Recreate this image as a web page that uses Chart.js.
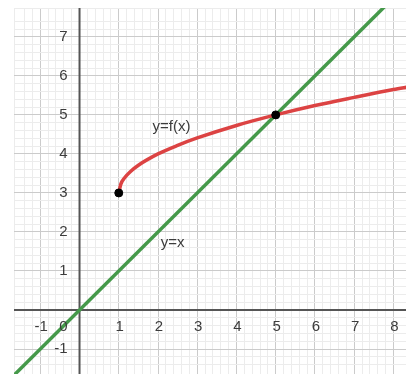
<!DOCTYPE html>
<html>
<head>
<meta charset="utf-8">
<script src="https://cdn.jsdelivr.net/npm/chart.js@4"></script>
<style>
  body { margin: 0; background: #fff; }
  canvas { display: block; }
</style>
</head>
<body>
<canvas id="graph" width="406" height="374"></canvas>
<script>
// values
const curveX = [1, 1.05, 1.15, 1.3, 1.5, 2, 2.5, 3, 4, 5, 6, 7, 8, 8.4];
const curveY = [3, 3.22, 3.39, 3.55, 3.71, 4.0, 4.22, 4.41, 4.73, 5.0, 5.24, 5.45, 5.65, 5.72];
const lineX = [-2, 9];
const lineY = [-2, 9];
const dotX = [1, 5];
const dotY = [3, 5];
const xTicks = [-1, 1, 2, 3, 4, 5, 6, 7, 8];
const yTicks = [-1, 1, 2, 3, 4, 5, 6, 7];
const curveLabel = { text: "y=f(x)", x: 1.86, y: 4.69 };
const lineLabel = { text: "y=x", x: 2.07, y: 1.72 };

function toPoints(xs, ys) {
  return xs.map((x, i) => ({ x: x, y: ys[i] }));
}

function isWhole(v) {
  return Math.abs(v - Math.round(v)) < 1e-6;
}

function gridColor(ctx) {
  return isWhole(ctx.tick.value) ? "#cbcbcb" : "#ececec";
}

// the two axes go over the whole grid
const axesPlugin = {
  id: "axes",
  beforeDatasetsDraw(chart) {
    const c = chart.ctx;
    const area = chart.chartArea;
    const x0 = chart.scales.x.getPixelForValue(0);
    const y0 = chart.scales.y.getPixelForValue(0);
    c.save();
    c.strokeStyle = "#555";
    c.lineWidth = 2;
    c.beginPath();
    c.moveTo(x0, area.top);
    c.lineTo(x0, area.bottom);
    c.moveTo(area.left, y0);
    c.lineTo(area.right, y0);
    c.stroke();
    c.restore();
  },
};

// axis numbers and the two captions, placed through the scales
const labelsPlugin = {
  id: "labels",
  afterDatasetsDraw(chart) {
    const c = chart.ctx;
    const xs = chart.scales.x;
    const ys = chart.scales.y;
    const x0 = xs.getPixelForValue(0);
    const y0 = ys.getPixelForValue(0);
    c.save();
    c.font = "15px 'Liberation Sans', Arial, sans-serif";
    c.fillStyle = "#3c3c3c";
    c.textBaseline = "middle";

    c.textAlign = "center";
    xTicks.forEach((t) => {
      c.fillText(String(t).replace("-", "\u2011"), xs.getPixelForValue(t) + 1, y0 + 17);
    });
    c.textAlign = "right";
    yTicks.forEach((t) => {
      c.fillText(String(t), x0 - 12, ys.getPixelForValue(t));
    });
    c.fillText("0", x0 - 12, y0 + 17);

    c.textAlign = "left";
    [curveLabel, lineLabel].forEach((l) => {
      c.fillText(l.text, xs.getPixelForValue(l.x), ys.getPixelForValue(l.y));
    });
    c.restore();
  },
};

new Chart("graph", {
  type: "scatter",
  data: {
    datasets: [
      {
        data: toPoints(dotX, dotY),
        backgroundColor: "#000",
        borderColor: "#000",
        pointRadius: 4,
        showLine: false,
        order: 0,
      },
      {
        data: toPoints(curveX, curveY),
        borderColor: "#dc4343",
        borderWidth: 3.5,
        pointRadius: 0,
        showLine: true,
        cubicInterpolationMode: "monotone",
        clip: 0,
        order: 1,
      },
      {
        data: toPoints(lineX, lineY),
        borderColor: "#45994a",
        borderWidth: 3.5,
        pointRadius: 0,
        showLine: true,
        clip: 0,
        order: 2,
      },
    ],
  },
  options: {
    responsive: false,
    animation: false,
    layout: { autoPadding: false, padding: { left: 14, top: 8, right: 0, bottom: 0 } },
    plugins: {
      legend: { display: false },
      tooltip: { enabled: false },
    },
    scales: {
      x: {
        type: "linear",
        min: -1.67,
        max: 8.32,
        ticks: { display: false, stepSize: 0.2 },
        border: { display: false },
        grid: { color: gridColor, drawTicks: false },
      },
      y: {
        type: "linear",
        min: -1.64,
        max: 7.74,
        ticks: { display: false, stepSize: 0.2 },
        border: { display: false },
        grid: { color: gridColor, drawTicks: false },
      },
    },
  },
  plugins: [axesPlugin, labelsPlugin],
});
</script>
</body>
</html>
